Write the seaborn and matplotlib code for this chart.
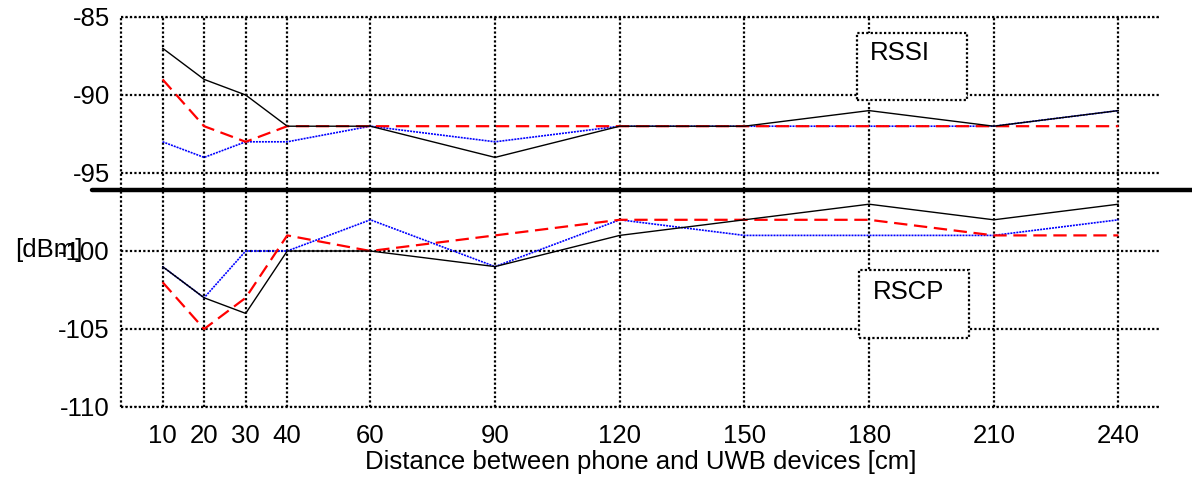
import matplotlib
matplotlib.use("Agg")
import matplotlib.pyplot as plt
import seaborn as sns
import pandas as pd
from matplotlib.patches import Rectangle

sns.set_theme(style="white")
plt.rcParams['font.family'] = ['Liberation Sans', 'DejaVu Sans']
plt.rcParams['text.color'] = 'black'
plt.rcParams['xtick.color'] = 'black'
plt.rcParams['ytick.color'] = 'black'
plt.rcParams['axes.labelcolor'] = 'black'

distance = [10, 20, 30, 40, 60, 90, 120, 150, 180, 210, 240]

rssi_black = [-87, -89, -90, -92, -92, -94, -92, -92, -91, -92, -91]
rssi_red = [-89, -92, -93, -92, -92, -92, -92, -92, -92, -92, -92]
rssi_blue = [-93, -94, -93, -93, -92, -93, -92, -92, -92, -92, -91]

rscp_black = [-101, -103, -104, -100, -100, -101, -99, -98, -97, -98, -97]
rscp_red = [-102, -105, -103, -99, -100, -99, -98, -98, -98, -99, -99]
rscp_blue = [-101, -103, -100, -100, -98, -101, -98, -99, -99, -99, -98]

y_ticks = [-85, -90, -95, -100, -105, -110]
x_label = "Distance between phone and UWB devices [cm]"
y_label = "[dBm]"

fig = plt.figure(figsize=(11.92, 4.82), dpi=100)
ax = fig.add_axes([121/1192, 75/482, 1039/1192, 390/482])

styles = {
    "black": dict(color="black", linestyle="-", linewidth=1.0),
    "red": dict(color="#ff0000", linestyle=(0, (6, 3)), linewidth=1.6),
    "blue": dict(color="#0000ff", linestyle=(0, (1.2, 0.6)), linewidth=1.2),
}

series = [
    (rssi_blue, "blue"), (rssi_red, "red"), (rssi_black, "black"),
    (rscp_blue, "blue"), (rscp_red, "red"), (rscp_black, "black"),
]
for vals, key in series:
    df = pd.DataFrame({"d": distance, "v": vals})
    sns.lineplot(data=df, x="d", y="v", ax=ax, **styles[key], zorder=3)

ax.set_xlim(0, 250)
ax.set_ylim(-110, -85)
ax.set_xticks(distance)
ax.set_xticklabels([str(d) for d in distance], fontsize=18.5)
ax.set_yticks(y_ticks)
ax.set_yticklabels([str(t) for t in y_ticks], fontsize=18.5)
ax.tick_params(axis='both', direction='in', length=3, color='black')
ax.tick_params(axis='x', pad=12)
ax.tick_params(axis='y', pad=8)

ax.grid(True, color='black', linestyle=(0, (1, 1)), linewidth=1.6)
for s in ['left', 'top', 'bottom']:
    ax.spines[s].set_linestyle((0, (1, 1)))
    ax.spines[s].set_capstyle('butt')
    ax.spines[s].set_color('black')
    ax.spines[s].set_linewidth(1.6)
ax.spines['right'].set_visible(False)

ax.set_xlabel(x_label, fontsize=18.5, labelpad=2)
ax.set_ylabel(y_label, fontsize=18.5, rotation=0, ha='center', va='center')
ax.yaxis.set_label_coords(-0.0695, 0.4026)

# separator between the two panels
ax.axhline(-96.1, xmin=-0.028, xmax=1.04, color='black', linewidth=3.2, clip_on=False, zorder=4)

# label boxes
for (x0, y0, w, h, txt, ty) in [(177, -90.3, 26.5, 4.3, "RSSI", -87.3),
                                 (177.5, -105.6, 26.5, 4.4, "RSCP", -102.6)]:
    ax.add_patch(Rectangle((x0, y0), w, h, fill=True, facecolor='white', edgecolor='black',
                           linestyle=(0, (1, 1)), linewidth=1.6, capstyle='butt', zorder=5))
    ax.text(x0 + 3.3, ty, txt, fontsize=18.5, ha='left', va='center', zorder=6)

fig.savefig("out.png", dpi=100)
